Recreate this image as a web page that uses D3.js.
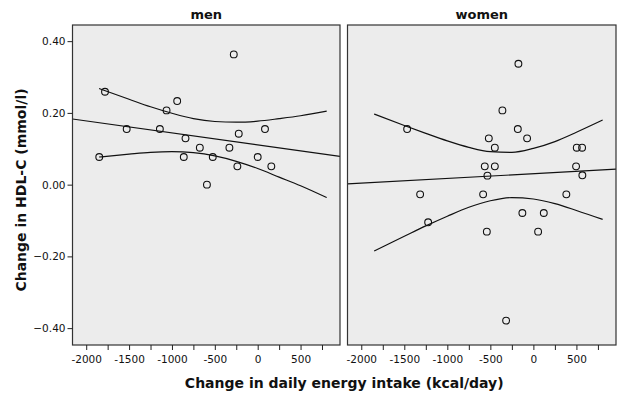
<!DOCTYPE html>
<html>
<head>
<meta charset="utf-8">
<script src="https://cdn.jsdelivr.net/npm/d3@7"></script>
<style>
  html, body { margin: 0; padding: 0; background: #ffffff; }
  svg { display: block; }
  text { font-family: "DejaVu Sans", Verdana, sans-serif; fill: #111; }
</style>
</head>
<body>
<svg id="chart" width="623" height="400"></svg>
<script>
// ---- data ----
const panels = ["men", "women"];

const menEnergy = [-1781, -939, -1063, -279, -1528, -1141, 85, -221, -842, -675, -330, -1848, -862, -524, 0, -237, 159, -592];
const menHDL    = [0.259, 0.233, 0.207, 0.363, 0.155, 0.155, 0.155, 0.142, 0.129, 0.103, 0.103, 0.077, 0.077, 0.077, 0.077, 0.051, 0.051, 0.0];

const womenEnergy = [-174, -360, -1467, -181, -518, -73, -448, 504, 566, -565, -448, 496, -534, 569, -1316, -584, 383, -128, 121, -1223, -541, 55, -317];
const womenHDL    = [0.337, 0.207, 0.155, 0.155, 0.129, 0.129, 0.103, 0.103, 0.103, 0.051, 0.051, 0.051, 0.025, 0.026, -0.027, -0.027, -0.027, -0.079, -0.079, -0.105, -0.131, -0.131, -0.379];

// fitted line (ends at the panel edges)
const fitX     = [-2160, 960];
const menFit   = [0.183, 0.079];
const womenFit = [0.002, 0.043];

// confidence band of the mean, sampled along x
const bandX      = [-1850, -1500, -1250, -1000, -750, -500, -250, 0, 250, 500, 805];
const menUpper   = [0.268, 0.238, 0.217, 0.199, 0.184, 0.176, 0.174, 0.177, 0.184, 0.192, 0.205];
const menLower   = [0.077, 0.085, 0.090, 0.092, 0.089, 0.080, 0.065, 0.045, 0.021, -0.003, -0.036];
const womenUpper = [0.197, 0.165, 0.143, 0.122, 0.104, 0.092, 0.090, 0.101, 0.120, 0.146, 0.180];
const womenLower = [-0.185, -0.144, -0.115, -0.088, -0.063, -0.045, -0.036, -0.040, -0.053, -0.072, -0.097];

const xTickValues = d3.range(-2000, 751, 250);
const xTickLabels = [-2000, -1500, -1000, -500, 0, 500];
const yTickValues = [0.40, 0.20, 0.00, -0.20, -0.40];

const xTitle = "Change in daily energy intake (kcal/day)";
const yTitle = "Change in HDL-C (mmol/l)";

// ---- layout ----
const svg = d3.select("#chart");
const plotTop = 25, plotBottom = 345;
const panelRanges = [[72.5, 340], [347.5, 616]];
const xDomain = [-2160, 960];
const y = d3.scaleLinear().domain([-0.447, 0.445]).range([plotBottom, plotTop]);

const datasets = [
  { title: panels[0], ex: menEnergy, hy: menHDL, fit: menFit, up: menUpper, lo: menLower },
  { title: panels[1], ex: womenEnergy, hy: womenHDL, fit: womenFit, up: womenUpper, lo: womenLower }
];

datasets.forEach((ds, i) => {
  const [x0, x1] = panelRanges[i];
  const x = d3.scaleLinear().domain(xDomain).range([x0, x1]);
  const g = svg.append("g");

  g.append("rect")
    .attr("x", x0).attr("y", plotTop)
    .attr("width", x1 - x0).attr("height", plotBottom - plotTop)
    .attr("fill", "#ececec");

  const clipId = "clip" + i;
  g.append("clipPath").attr("id", clipId)
    .append("rect").attr("x", x0).attr("y", plotTop).attr("width", x1 - x0).attr("height", plotBottom - plotTop);

  const plot = g.append("g").attr("clip-path", `url(#${clipId})`);

  const line = d3.line().x(d => x(d[0])).y(d => y(d[1]));
  const curve = d3.line().x(d => x(d[0])).y(d => y(d[1])).curve(d3.curveMonotoneX);

  plot.append("path")
    .attr("d", line(fitX.map((v, k) => [v, ds.fit[k]])))
    .attr("fill", "none").attr("stroke", "#111").attr("stroke-width", 1.2);
  plot.append("path")
    .attr("d", curve(bandX.map((v, k) => [v, ds.up[k]])))
    .attr("fill", "none").attr("stroke", "#111").attr("stroke-width", 1.2);
  plot.append("path")
    .attr("d", curve(bandX.map((v, k) => [v, ds.lo[k]])))
    .attr("fill", "none").attr("stroke", "#111").attr("stroke-width", 1.2);

  plot.selectAll("circle").data(ds.ex.map((v, k) => [v, ds.hy[k]]))
    .join("circle")
    .attr("cx", d => x(d[0])).attr("cy", d => y(d[1]))
    .attr("r", 3.4)
    .attr("fill", "none").attr("stroke", "#111").attr("stroke-width", 1.1);

  g.append("rect")
    .attr("x", x0).attr("y", plotTop)
    .attr("width", x1 - x0).attr("height", plotBottom - plotTop)
    .attr("fill", "none").attr("stroke", "#333").attr("stroke-width", 1.2);

  // x axis
  const xAxis = d3.axisBottom(x)
    .tickValues(xTickValues)
    .tickSize(5)
    .tickSizeOuter(0)
    .tickFormat(d => xTickLabels.includes(d) ? String(d) : "");
  const ax = g.append("g").attr("transform", `translate(0,${plotBottom})`).call(xAxis);
  ax.select(".domain").remove();
  ax.selectAll("line").attr("stroke", "#222");
  ax.selectAll("text").attr("font-size", 10.5).attr("dy", "0.95em").attr("fill", "#111")
    .attr("font-family", "DejaVu Sans, sans-serif");

  // title
  g.append("text")
    .attr("x", (x0 + x1) / 2).attr("y", 19)
    .attr("text-anchor", "middle")
    .attr("font-size", 13).attr("font-weight", "bold")
    .text(ds.title);
});

// y axis
const yAxis = d3.axisLeft(y).tickValues(yTickValues).tickSize(5).tickSizeOuter(0)
  .tickFormat(d3.format(".2f"));
const ay = svg.append("g").attr("transform", `translate(${panelRanges[0][0]},0)`).call(yAxis);
ay.select(".domain").remove();
ay.selectAll("line").attr("stroke", "#222");
ay.selectAll("text").attr("font-size", 10.5).attr("fill", "#111").attr("x", -7)
  .attr("font-family", "DejaVu Sans, sans-serif");

// axis titles
svg.append("text")
  .attr("x", (panelRanges[0][0] + panelRanges[1][1]) / 2).attr("y", 388)
  .attr("text-anchor", "middle").attr("font-size", 14).attr("font-weight", "bold")
  .text(xTitle);

svg.append("text")
  .attr("transform", `translate(26,${(plotTop + plotBottom) / 2 + 5}) rotate(-90)`)
  .attr("text-anchor", "middle").attr("font-size", 14).attr("font-weight", "bold")
  .text(yTitle);
</script>
</body>
</html>
